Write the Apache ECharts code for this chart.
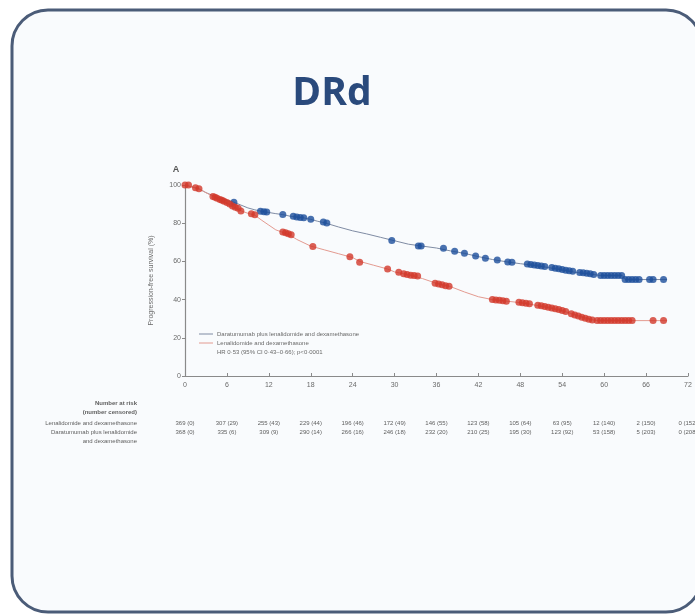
<!DOCTYPE html>
<html>
<head>
<meta charset="utf-8">
<script src="https://cdn.jsdelivr.net/npm/echarts@6/dist/echarts.min.js"></script>
<style>
  html, body { margin: 0; padding: 0; background: #ffffff; }
  #chart { width: 695px; height: 616px; }
</style>
</head>
<body>
<div id="chart"></div>
<script>
// Kaplan-Meier progression-free survival, MAIA (DRd vs Rd)
const monthTicks = [0, 6, 12, 18, 24, 30, 36, 42, 48, 54, 60, 66, 72];
const yTicks = [0, 20, 40, 60, 80, 100];

// Survival curve points [month, % progression-free]
const drdCurve = [[0,100],[1,99],[2,98],[3,96],[4,94.5],[5,93],[6,92],[7,91],[8,89.5],[9,88],[10,87],[11,86.2],[12,85.6],[13,85],[14,84.5],[15,83.7],[16,83.2],[17,82.8],[18,82],[19,81],[20,80.2],[22,78],[24,76],[26,74.4],[28,72.6],[30,70.8],[32,69],[34,68],[36,67],[38,65.5],[40,64.2],[42,62.5],[44,61],[46,59.8],[48,58.8],[50,57.9],[52,56.8],[54,55.5],[56,54.2],[58,53.4],[59.5,52.6],[62.6,52.6],[63,50.5],[69,50.5]];
const rdCurve = [[0,100],[1,99],[2,98],[3,96],[4,94],[5,92],[6,90.5],[7,88.5],[8,86.5],[9,85.2],[10,84.2],[11,81.5],[12,79],[13,76.5],[14,75.2],[15,73.8],[16,71.5],[18,68],[20,66],[22,64],[24,62],[25,60],[27,58],[29,56],[30,54.5],[32,53],[34,51],[36,48.5],[38,46.8],[40,44],[42,41.5],[44,40],[46,39.2],[48,38.4],[50,37.2],[52,35.8],[54,34.2],[56,31.8],[58,29.6],[59,29],[69,29]];

// Censored observations [month, %]
const drdCensored = [[7,91],[10.8,86.2],[11.3,86],[11.7,85.9],[14,84.6],[15.5,83.6],[16,83.3],[16.5,83],[17,82.9],[18,82.1],[19.8,80.6],[20.3,80.1],[29.6,71],[33.4,68],[33.8,68],[37,66.9],[38.6,65.3],[40,64.3],[41.6,62.8],[43,61.7],[44.7,60.7],[46.2,59.7],[46.8,59.5],[49,58.6],[49.5,58.4],[50,58.1],[50.5,57.8],[51,57.6],[51.5,57.3],[52.5,56.8],[53,56.4],[53.5,56.1],[54,55.7],[54.5,55.4],[55,55.1],[55.5,54.9],[56.5,54.2],[57,54],[57.5,53.8],[58,53.5],[58.5,53.1],[59.5,52.6],[60,52.6],[60.5,52.6],[61,52.6],[61.5,52.6],[62,52.6],[62.5,52.6],[63,50.5],[63.5,50.5],[64,50.5],[64.5,50.5],[65,50.5],[66.5,50.5],[67,50.5],[68.5,50.5]];
const rdCensored = [[0,100],[0.5,100],[1.5,98.6],[2,98],[4,94],[4.3,93.6],[4.6,93],[5,92.4],[5.3,92],[5.6,91.5],[6,90.8],[6.4,90],[6.8,89],[7.2,88.4],[7.6,87.8],[8,86.4],[9.5,85],[10,84.4],[14,75.4],[14.4,75],[14.8,74.5],[15.2,74],[18.3,67.8],[23.6,62.4],[25,59.6],[29,56],[30.6,54.3],[31.3,53.5],[31.8,53.1],[32.3,52.8],[32.8,52.6],[33.3,52.4],[35.8,48.6],[36.3,48.2],[36.8,47.8],[37.3,47.3],[37.8,47],[44,40],[44.5,39.8],[45,39.6],[45.5,39.4],[46,39.2],[47.8,38.6],[48.3,38.4],[48.8,38.1],[49.3,37.8],[50.5,37],[51,36.8],[51.5,36.4],[52,36],[52.5,35.6],[53,35.2],[53.5,34.8],[54,34.3],[54.5,33.8],[55.3,32.6],[55.8,32],[56.3,31.4],[56.8,30.8],[57.3,30.2],[57.8,29.7],[58.3,29.3],[59,29],[59.5,29],[60,29],[60.5,29],[61,29],[61.5,29],[62,29],[62.5,29],[63,29],[63.5,29],[64,29],[67,29],[68.5,29]];

// Number at risk (number censored)
const riskRd = ['369 (0)','307 (29)','255 (43)','229 (44)','196 (46)','172 (49)','146 (55)','123 (58)','105 (64)','63 (95)','12 (140)','2 (150)','0 (152)'];
const riskDrd = ['368 (0)','335 (6)','309 (9)','290 (14)','266 (16)','246 (18)','232 (20)','210 (25)','195 (30)','123 (92)','53 (158)','5 (203)','0 (208)'];

const legendLabels = ['Daratumumab plus lenalidomide and dexamethasone', 'Lenalidomide and dexamethasone'];
const hrText = 'HR 0·53 (95% CI 0·43–0·66); p<0·0001';

const BLUE = '#1d4f9b';
const RED = '#d2382a';
const LINE_BLUE = '#7f8ba3';
const LINE_RED = '#e39a90';
const TXT = '#6a6a6a';
const FONT = 'Liberation Sans';

const chart = echarts.init(document.getElementById('chart'), null, { renderer: 'canvas' });

const option = {
  backgroundColor: '#ffffff',
  animation: false,
  grid: { left: 185, right: 7, top: 185, bottom: 240 },
  xAxis: {
    type: 'value', min: 0, max: 72, interval: 6,
    axisLine: { lineStyle: { color: '#8a8a8a', width: 1.2 } },
    axisTick: { show: true, length: 3, inside: true, lineStyle: { color: '#8a8a8a' } },
    axisLabel: { color: TXT, fontSize: 7, fontFamily: FONT, margin: 6 },
    splitLine: { show: false }
  },
  yAxis: {
    type: 'value', min: 0, max: 100, interval: 20,
    name: 'Progression-free survival (%)',
    nameLocation: 'middle', nameGap: 30, nameRotate: 90,
    nameTextStyle: { color: TXT, fontSize: 7, fontFamily: FONT },
    axisLine: { show: true, lineStyle: { color: '#8a8a8a', width: 1.2 } },
    axisTick: { show: true, length: 3, lineStyle: { color: '#8a8a8a' } },
    axisLabel: { color: TXT, fontSize: 7, fontFamily: FONT, margin: 4 },
    splitLine: { show: false }
  },
  series: [
    { name: legendLabels[0], type: 'line', data: drdCurve, showSymbol: false,
      lineStyle: { color: LINE_BLUE, width: 1 }, z: 2 },
    { name: legendLabels[1], type: 'line', data: rdCurve, showSymbol: false,
      lineStyle: { color: LINE_RED, width: 1 }, z: 2 },
    { type: 'scatter', data: drdCensored, symbol: 'circle', symbolSize: 7,
      itemStyle: { color: BLUE }, z: 3 },
    { type: 'scatter', data: rdCensored, symbol: 'circle', symbolSize: 7,
      itemStyle: { color: RED }, z: 4 }
  ]
};
chart.setOption(option);

// Card frame, headings, legend and risk table
function buildGraphics() {
  const els = [];
  els.push({ type: 'rect', z: -10, silent: true,
    shape: { x: 12, y: 10, width: 690, height: 602, r: 36 },
    style: { fill: '#f9fbfd', stroke: '#4b5c78', lineWidth: 3 } });
  els.push({ type: 'text', z: 10, style: { text: 'DRd', x: 332, y: 74, align: 'center', verticalAlign: 'alphabetic',
    fill: '#2a4a7c', font: 'bold 39px "Open Sans"' } });
  els.push({ type: 'text', z: 10, style: { text: 'A', x: 176, y: 170, align: 'center', verticalAlign: 'middle',
    fill: '#555', font: 'bold 9px ' + FONT } });

  // legend
  const lx = 199, ly = 334;
  const legendColors = [LINE_BLUE, LINE_RED];
  legendLabels.forEach((lab, i) => {
    const y = ly + i * 9;
    els.push({ type: 'line', z: 10, shape: { x1: lx, y1: y, x2: lx + 14, y2: y },
      style: { stroke: legendColors[i], lineWidth: 1 } });
    els.push({ type: 'text', z: 10, style: { text: lab, x: lx + 18, y: y, verticalAlign: 'middle',
      fill: TXT, font: '6px ' + FONT } });
  });
  els.push({ type: 'text', z: 10, style: { text: hrText, x: lx + 18, y: ly + 18, verticalAlign: 'middle',
    fill: TXT, font: '6px ' + FONT } });

  // number at risk
  const labX = 137;
  const head = [['Number at risk', 403, 'bold '], ['(number censored)', 412, 'bold '],
                ['Lenalidomide and dexamethasone', 423, ''], ['Daratumumab plus lenalidomide', 432, ''],
                ['and dexamethasone', 441, '']];
  head.forEach(h => {
    els.push({ type: 'text', z: 10, style: { text: h[0], x: labX, y: h[1], align: 'right', verticalAlign: 'middle',
      fill: '#5f5f5f', font: h[2] + '6px ' + FONT } });
  });
  monthTicks.forEach((m, i) => {
    const px = chart.convertToPixel({ xAxisIndex: 0 }, m);
    els.push({ type: 'text', z: 10, style: { text: riskRd[i], x: px, y: 423, align: 'center', verticalAlign: 'middle',
      fill: '#5f5f5f', font: '6px ' + FONT } });
    els.push({ type: 'text', z: 10, style: { text: riskDrd[i], x: px, y: 432, align: 'center', verticalAlign: 'middle',
      fill: '#5f5f5f', font: '6px ' + FONT } });
  });
  return els;
}
chart.setOption({ graphic: { elements: buildGraphics() } });
</script>
</body>
</html>
